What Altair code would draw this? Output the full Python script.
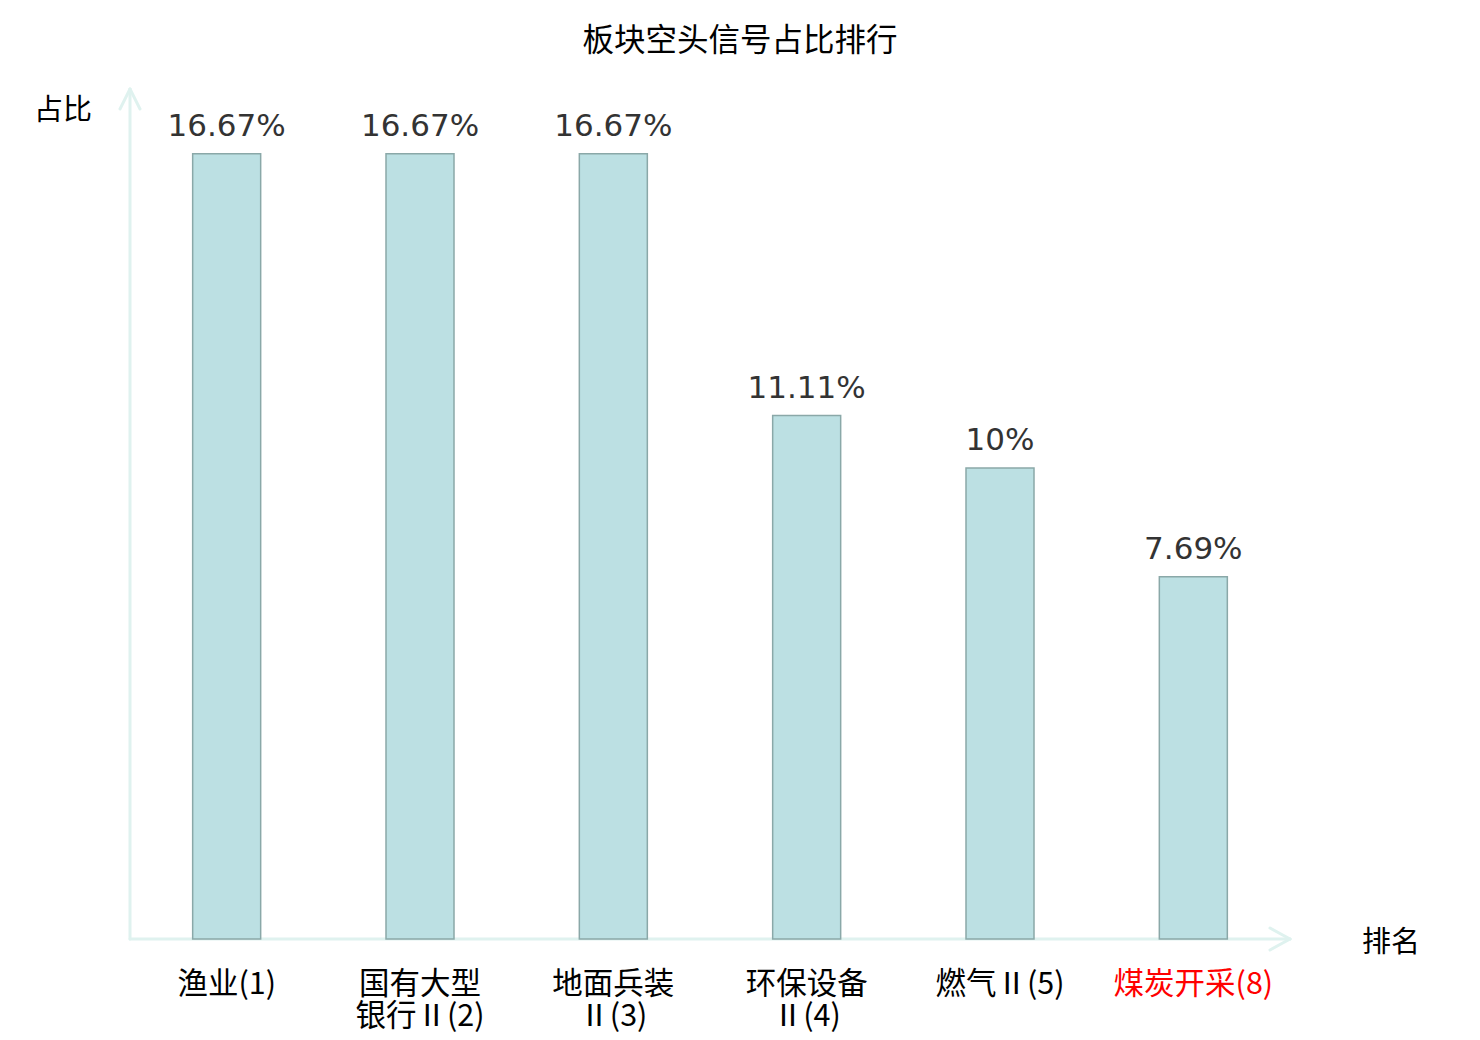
import altair as alt
import pandas as pd

categories = ["渔业(1)", "国有大型\n银行Ⅱ(2)", "地面兵装\nⅡ(3)", "环保设备\nⅡ(4)", "燃气Ⅱ(5)", "煤炭开采(8)"]
values = [16.67, 16.67, 16.67, 11.11, 10.0, 7.69]
value_labels = ["16.67%", "16.67%", "16.67%", "11.11%", "10%", "7.69%"]
label_colors = ["#000000", "#000000", "#000000", "#000000", "#000000", "#ff0000"]

W, H = 1160, 848
df = pd.DataFrame({"cat": categories, "val": values, "vlab": value_labels, "col": label_colors})

xs = alt.X("cat:N", sort=None, axis=None, scale=alt.Scale(paddingInner=0, paddingOuter=0))
ys = alt.Y("val:Q", axis=None, scale=alt.Scale(domain=[0, 18]))

bars = alt.Chart(df).mark_bar(width=68, fill="#bce0e3", stroke="#8aa8a8", strokeWidth=1.5).encode(x=xs, y=ys)
vals = alt.Chart(df).mark_text(font="DejaVu Sans", fontSize=31, color="#333333", baseline="alphabetic", dy=-18).encode(
    x=xs, y=ys, text="vlab:N")
cats = alt.Chart(df).mark_text(font="Noto Sans CJK SC", fontSize=30.5, baseline="top", lineBreak="\n", lineHeight=32).encode(
    x=xs, y=alt.value(H + 31), text="cat:N", color=alt.Color("col:N", scale=None))

axis_col = "#dff2ef"
one = pd.DataFrame({"a": [0]})
def seg(x1, y1, x2, y2):
    return alt.Chart(one).mark_rule(color=axis_col, strokeWidth=3, strokeCap="round").encode(
        x=alt.value(x1), y=alt.value(y1), x2=alt.value(x2), y2=alt.value(y2))

axes = [
    seg(0, H, 0, -2),
    seg(0, -2, -10, 18),
    seg(0, -2, 10, 18),
    seg(0, H, W, H),
    seg(W, H, W - 20, H - 11),
    seg(W, H, W - 20, H + 11),
]

def txt(t, x, y, size=29, color="#000000", font="Noto Sans CJK SC"):
    return alt.Chart(one).mark_text(text=t, font=font, fontSize=size, color=color, baseline="middle", align="center").encode(
        x=alt.value(x), y=alt.value(y))

title = txt("板块空头信号占比排行", 610, -49, size=31.5)
ylab = txt("占比", -67, 20)
xlab = txt("排名", 1261, 852)

chart = alt.layer(*axes, bars, vals, cats, title, ylab, xlab).properties(
    width=W, height=H,
    autosize=alt.AutoSizeParams(type="none"),
    padding={"left": 122, "top": 83, "right": 170, "bottom": 93},
).configure_view(stroke=None)

chart.save("out.html", embed_options={"renderer": "svg", "actions": False})
